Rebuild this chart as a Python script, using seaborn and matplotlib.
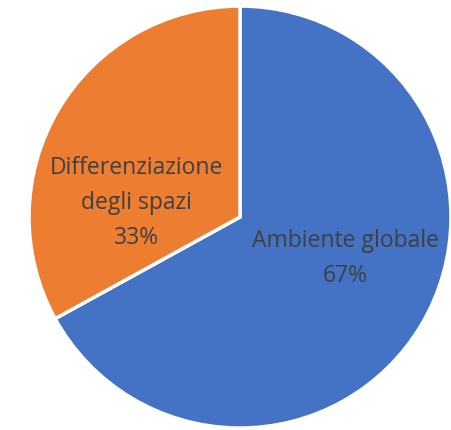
import matplotlib
matplotlib.use("Agg")
import matplotlib.pyplot as plt
import seaborn as sns

# data
labels = ["Ambiente globale", "Differenziazione\ndegli spazi"]
values = [67, 33]
colors = sns.color_palette(["#4472C4", "#ED7D31"])

sns.set_style("white")
plt.rcParams['font.family'] = ['Open Sans', 'DejaVu Sans']

fig = plt.figure(figsize=(4.51, 4.31), dpi=100)
ax = fig.add_axes([0.0643, 0.0046, 0.9357, 0.979])

wedges, _ = ax.pie(values, colors=colors, startangle=90, counterclock=False,
                   radius=1, wedgeprops=dict(edgecolor="white", linewidth=2.5))
ax.set_aspect("equal")
ax.set_xlim(-1, 1)
ax.set_ylim(-1, 1)

# label spots inside each slice
spots = [(0.50, -0.19), (-0.49, 0.07)]
for (x, y), lab, v in zip(spots, labels, values):
    ax.text(x, y, f"{lab}\n{v}%", ha="center", va="center",
            fontsize=16.5, color="#404040", linespacing=1.6)

fig.savefig("out.png", dpi=100)
